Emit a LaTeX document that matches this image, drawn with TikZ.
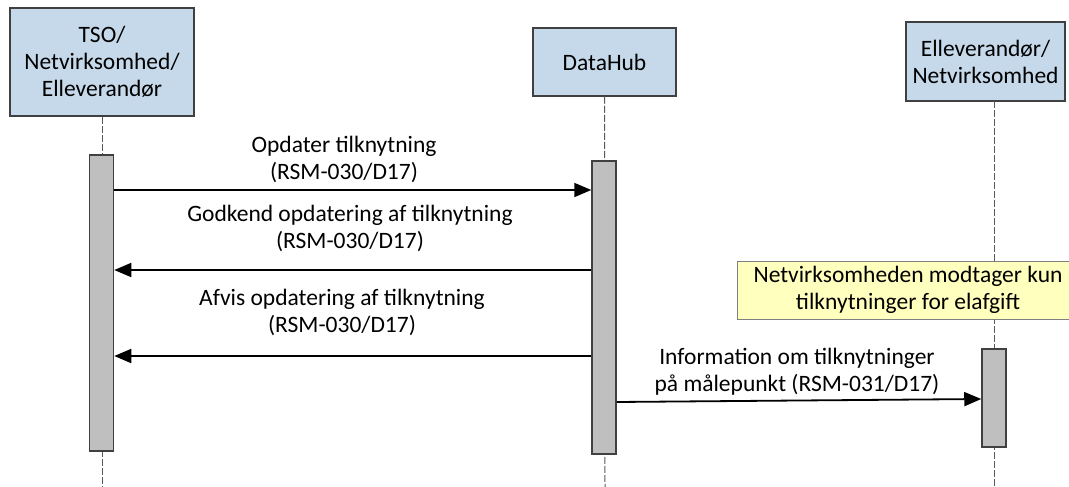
\documentclass[tikz,border=0pt]{standalone}
\usepackage{fontspec}
\setmainfont{Carlito}
\usetikzlibrary{arrows.meta}

\definecolor{boxblue}{RGB}{198,217,234}
\definecolor{actgray}{RGB}{191,191,191}
\definecolor{noteyellow}{RGB}{255,255,190}
\definecolor{edgegray}{RGB}{64,64,64}

\begin{document}
\begin{tikzpicture}[x=1pt,y=-1pt,font=\fontsize{23.5}{27}\selectfont,
  party/.style={draw=edgegray,line width=1.5pt,fill=boxblue,align=center,inner sep=0pt},
  activ/.style={draw=edgegray,line width=1.5pt,fill=actgray,minimum width=24pt,inner sep=0pt},
  lifeline/.style={black!65,line width=1pt,dash pattern=on 7pt off 2pt},
  msg/.style={line width=1.8pt,-{Triangle[length=17pt,width=14pt]}},
  lbl/.style={align=center,inner sep=0pt},
  notebox/.style={draw=gray,line width=1pt,fill=noteyellow,align=center,inner sep=0pt}]
\useasboundingbox (0,0) rectangle (1069,487);
% parties
\node[party,minimum width=184pt,minimum height=108pt] (tso) at (102,62) {TSO/\\Netvirksomhed/\\Elleverandør};
\node[party,minimum width=143pt,minimum height=68pt] (hub) at (604.5,62) {DataHub};
\node[party,minimum width=159pt,minimum height=79pt] (elv) at (985.5,61.5) {Elleverandør/\\Netvirksomhed};
% lifelines
\coordinate (tsoend) at (102,487);
\coordinate (hubend) at (605,487);
\coordinate (elvtop) at (994,101);
\coordinate (elvend) at (994,487);
\draw[lifeline] (tso.south) -- (tsoend);
\draw[lifeline] (hub.south) -- (hubend);
\draw[lifeline] (elvtop) -- (elvend);
% activations
\node[activ,minimum height=296pt] (tsoact) at (101.5,303) {};
\node[activ,minimum height=293pt] (hubact) at (604,307.5) {};
\node[activ,minimum height=98pt] (elvact) at (994,398) {};
% note
\node[notebox,minimum width=342pt,minimum height=58pt] (elnote) at (908,290) {Netvirksomheden modtager kun\\tilknytninger for elafgift};
% messages
\draw[msg] (tsoact.east |- 0,190) -- (hubact.west |- 0,190);
\node[lbl] (l1) at (344,159) {Opdater tilknytning\\(RSM-030/D17)};
\draw[msg] (hubact.west |- 0,270) -- (tsoact.east |- 0,270);
\node[lbl] (l2) at (350,228.5) {Godkend opdatering af tilknytning\\(RSM-030/D17)};
\draw[msg] (hubact.west |- 0,356) -- (tsoact.east |- 0,356);
\node[lbl] (l3) at (342,312.5) {Afvis opdatering af tilknytning\\(RSM-030/D17)};
\draw[msg] (hubact.east |- 0,402) -- (elvact.west |- 0,399);
\node[lbl] (l4) at (797,371.5) {Information om tilknytninger\\på målepunkt (RSM-031/D17)};
\end{tikzpicture}
\end{document}
